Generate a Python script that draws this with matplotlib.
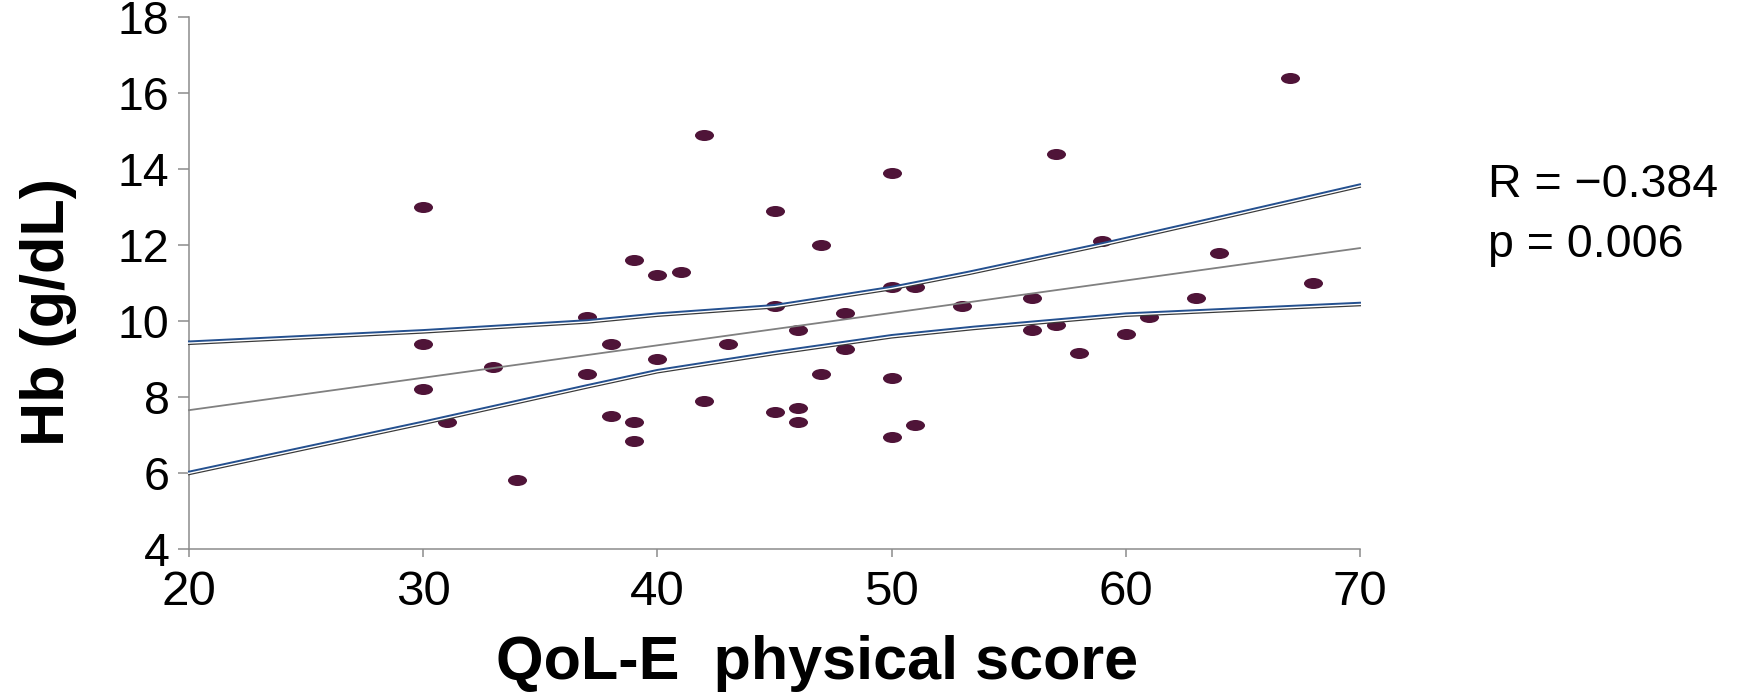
import numpy as np
import matplotlib
matplotlib.use('Agg')
import matplotlib.pyplot as plt
from matplotlib.path import Path
from matplotlib import patheffects

plt.rcParams['font.family'] = ['Liberation Sans', 'DejaVu Sans']

# QoL-E physical score vs haemoglobin, one point per patient
qol = [30, 30, 30, 31, 33, 34, 37, 37, 38, 38, 39, 39, 39, 40, 40, 41,
       42, 42, 43, 45, 45, 45, 46, 46, 46, 47, 47, 48, 48, 50, 50, 50,
       50, 51, 51, 53, 56, 56, 57, 57, 58, 59, 60, 61, 63, 64, 67, 68]
hb = [13.0, 9.4, 8.2, 7.35, 8.8, 5.8, 10.1, 8.6, 9.4, 7.5, 11.6, 7.35, 6.85, 11.2, 9.0, 11.3,
      14.9, 7.9, 9.4, 12.9, 10.4, 7.6, 9.75, 7.7, 7.35, 12.0, 8.6, 10.2, 9.25, 13.9, 10.9, 8.5,
      6.95, 10.9, 7.25, 10.4, 10.6, 9.75, 14.4, 9.9, 9.15, 12.1, 9.65, 10.1, 10.6, 11.8, 16.4, 11.0]

# regression line and its confidence band
fit_x = [20, 70]
fit_y = [7.65, 11.92]
upper_x = [20, 30, 37, 40, 45, 50, 53.3, 59, 64, 70]
upper_y = [9.46, 9.76, 10.02, 10.2, 10.42, 10.9, 11.3, 12.05, 12.75, 13.6]
lower_x = [20, 30, 37, 40, 45, 50, 53.5, 60, 70]
lower_y = [6.03, 7.35, 8.31, 8.71, 9.19, 9.63, 9.85, 10.2, 10.48]

W, H = 1737, 693
fig = plt.figure(figsize=(W / 100, H / 100), dpi=100)
ax = fig.add_axes([189 / W, 1 - 548.7 / H, (1360 - 189) / W, (548.7 - 17.3) / H])

circ = Path.unit_circle()
ellipse = Path(circ.vertices * [1, 0.58], circ.codes)
ax.plot(qol, hb, linestyle='none', marker=ellipse, markersize=13.7,
        color='#4f1438', markeredgewidth=0, zorder=2)

ax.plot(fit_x, fit_y, color='#808080', lw=1.3, zorder=3, clip_on=False)

# blue line with a dark shadow line just under it
double = [patheffects.Stroke(linewidth=1.4, foreground='#3a3a3a', offset=(0, -1.9)),
          patheffects.Stroke(linewidth=1.6, foreground='white', offset=(0, -0.9)),
          patheffects.Normal()]
for xs, ys in [(upper_x, upper_y), (lower_x, lower_y)]:
    ax.plot(xs, ys, color='#24508f', lw=1.4, zorder=4, clip_on=False,
            path_effects=double)

ax.set_xlim(20, 70)
ax.set_ylim(4, 18)
ax.set_xticks(range(20, 71, 10))
ax.set_yticks(range(4, 19, 2))
for s in ['top', 'right']:
    ax.spines[s].set_visible(False)
for s in ['left', 'bottom']:
    ax.spines[s].set_color('#8c8c8c')
    ax.spines[s].set_linewidth(1.1)
ax.tick_params(axis='y', length=8, width=1.1, color='#8c8c8c', labelsize=33.5, pad=6)
ax.tick_params(axis='x', length=6, width=1.1, color='#8c8c8c', labelsize=35.5, pad=9)

fig.text(20 / W, 1 - 311.5 / H, 'Hb (g/dL)', rotation=90, ha='left', va='center',
         fontsize=44, fontweight='bold')
fig.text(817.5 / W, 1 - 679 / H, 'QoL-E  physical score', ha='center', va='baseline',
         fontsize=44, fontweight='bold')

fig.text(1488 / W, 1 - 197.3 / H, 'R = \u22120.384', ha='left', va='baseline', fontsize=33.5)
fig.text(1488 / W, 1 - 257.3 / H, 'p = 0.006', ha='left', va='baseline', fontsize=33.5)

fig.savefig('out.png', dpi=100)
